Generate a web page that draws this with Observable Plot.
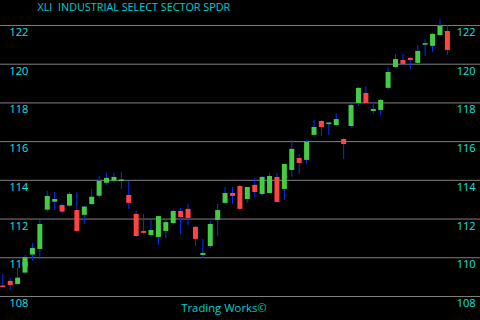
<!DOCTYPE html>
<html>
<head>
<meta charset="utf-8">
<script src="https://cdn.jsdelivr.net/npm/d3@7"></script>
<script src="https://cdn.jsdelivr.net/npm/@observablehq/plot@0.6"></script>
<style>
  html, body { margin: 0; padding: 0; background: #000; }
  #chart { width: 480px; height: 320px; }
</style>
</head>
<body>
<div id="chart"></div>
<script>
const title = "XLI  INDUSTRIAL SELECT SECTOR SPDR";
const caption = "Trading Works©";
const yTicks = [108, 110, 112, 114, 116, 118, 120, 122];

const opens  = [108.54,108.78,108.62,109.21,110.14,110.43,112.46,112.87,112.70,112.67,
                112.44,112.19,112.75,113.18,113.85,113.96,113.94,113.22,112.24,111.36,
                111.15,111.05,111.36,111.77,112.39,112.50,111.57,110.12,110.58,111.93,
                112.81,113.32,113.68,113.01,113.74,113.27,113.32,114.15,113.53,114.51,
                115.13,115.03,116.32,117.04,116.88,116.83,116.11,116.78,117.97,118.49,
                117.56,117.61,118.75,119.83,120.19,120.30,120.04,120.98,120.92,121.48,
                121.69];
const highs  = [109.14,108.92,109.46,110.12,110.74,111.93,113.43,113.37,112.79,113.37,
                113.37,112.65,113.53,114.20,114.36,114.36,114.41,113.94,112.39,112.24,
                111.93,112.15,111.93,112.50,112.55,112.75,111.62,110.95,111.88,112.75,
                113.63,113.63,113.75,113.63,114.10,114.20,114.36,114.36,114.82,116.06,
                115.34,116.06,117.09,117.09,116.95,117.45,116.16,117.92,118.80,118.85,
                118.02,118.18,119.83,120.50,120.50,120.35,120.97,121.28,121.59,122.31,
                122.00];
const lows   = [108.40,108.31,108.60,109.15,109.83,109.91,112.36,112.44,112.27,112.60,
                111.30,111.72,112.70,113.08,113.75,113.85,113.54,112.50,111.05,111.20,
                111.05,110.64,111.00,111.72,111.20,111.67,110.58,109.96,110.48,111.10,
                112.75,112.75,112.45,112.81,113.12,113.17,113.30,112.80,112.96,114.15,
                114.30,114.82,116.30,116.27,116.32,116.78,115.08,116.68,117.82,117.92,
                117.40,117.35,118.70,119.78,119.93,119.73,119.99,120.40,120.61,121.45,
                120.45];
const closes = [108.46,108.57,108.95,110.00,110.48,111.72,113.17,113.01,112.36,113.27,
                111.36,112.62,113.13,113.94,114.10,114.15,114.02,112.81,111.10,111.26,
                111.41,112.13,111.82,112.39,112.08,112.03,110.95,110.22,111.72,112.44,
                113.32,113.17,112.50,113.63,113.37,114.15,114.20,112.86,114.82,115.60,
                114.87,115.96,116.73,116.73,116.96,117.14,115.85,117.87,118.75,117.97,
                117.66,118.13,119.57,120.24,119.99,120.19,120.66,121.06,121.54,121.95,
                120.71];

const candles = opens.map((o, i) => ({
  i, open: o, high: highs[i], low: lows[i], close: closes[i]
}));

const cyan = "#10e6e6";
const teal = "#00cccc";
const font = "'Open Sans', 'Liberation Sans', sans-serif";

const chart = Plot.plot({
  width: 480,
  height: 320,
  marginTop: 0, marginBottom: 0, marginLeft: 0, marginRight: 0,
  style: { background: "#000", fontFamily: font },
  x: { domain: [-0.31, 64.47], axis: null },
  y: { domain: [106.76, 123.29], axis: null },
  marks: [
    Plot.ruleY(yTicks, { stroke: "#808080", strokeWidth: 1 }),
    Plot.text(yTicks, { y: d => d, text: d => String(d), frameAnchor: "left", textAnchor: "start",
      dx: 9, dy: 7, fill: cyan, fontSize: 11 }),
    Plot.text(yTicks, { y: d => d, text: d => String(d), frameAnchor: "right", textAnchor: "end",
      dx: -5, dy: 7, fill: cyan, fontSize: 11 }),
    Plot.ruleX(candles, { x: "i", y1: "low", y2: "high", stroke: "#0030ff", strokeWidth: 1 }),
    Plot.ruleX(candles, { x: "i", y1: "open", y2: "close", strokeWidth: 5,
      stroke: d => d.close >= d.open ? "#44cc44" : "#ff4444" }),
    Plot.text([title], { frameAnchor: "top-left", textAnchor: "start", lineAnchor: "middle",
      dx: 37, dy: 7, fill: teal, fontSize: 10.8 }),
    Plot.text([caption], { frameAnchor: "bottom", textAnchor: "middle", lineAnchor: "middle",
      dx: -16.5, dy: -12, fill: teal, fontSize: 11.3 })
  ]
});
document.getElementById("chart").appendChild(chart);
</script>
</body>
</html>
